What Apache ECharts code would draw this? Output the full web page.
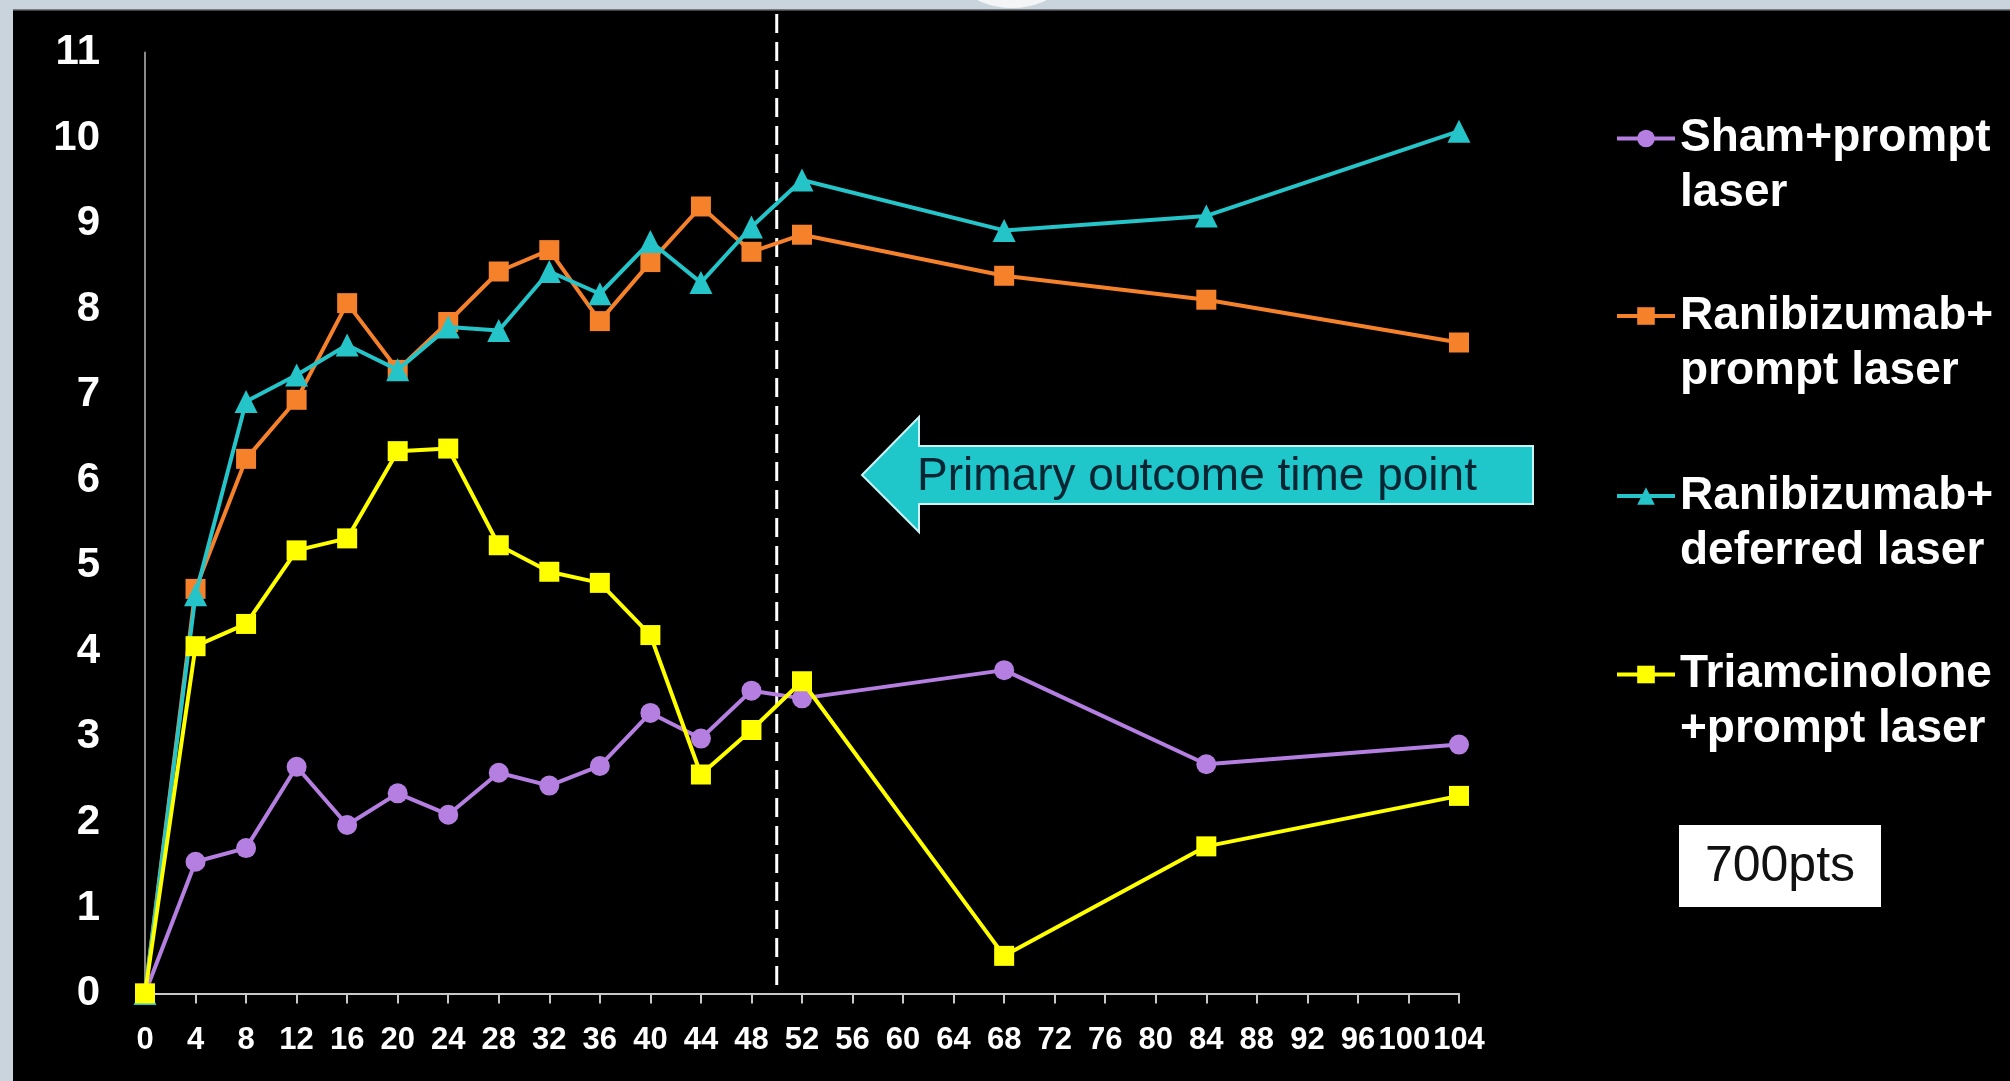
<!DOCTYPE html>
<html>
<head>
<meta charset="utf-8">
<script src="https://cdn.jsdelivr.net/npm/echarts/dist/echarts.min.js"></script>
<style>
html,body{margin:0;padding:0;background:#c9d4dc;}
#chart{width:2010px;height:1081px;}
</style>
</head>
<body>
<div id="chart"></div>
<script>
// ---- data ----
const weeks = [0, 4, 8, 12, 16, 20, 24, 28, 32, 36, 40, 44, 48, 52, 68, 84, 104];
const shamPrompt = [0, 1.54, 1.70, 2.65, 1.97, 2.34, 2.09, 2.58, 2.43, 2.66, 3.28, 2.98, 3.54, 3.45, 3.78, 2.68, 2.91];
const ranibPrompt = [0, 4.73, 6.25, 6.94, 8.07, 7.29, 7.85, 8.44, 8.69, 7.86, 8.55, 9.20, 8.67, 8.87, 8.39, 8.11, 7.61];
const ranibDeferred = [0, 4.66, 6.92, 7.23, 7.58, 7.29, 7.79, 7.75, 8.44, 8.18, 8.79, 8.31, 8.96, 9.51, 8.92, 9.09, 10.08];
const triamPrompt = [0, 4.06, 4.32, 5.18, 5.32, 6.34, 6.37, 5.24, 4.93, 4.80, 4.19, 2.56, 3.08, 3.65, 0.44, 1.72, 2.31];

const seriesNames = ['Sham+prompt laser', 'Ranibizumab+prompt laser', 'Ranibizumab+deferred laser', 'Triamcinolone+prompt laser'];
const legendLines = [['Sham+prompt', 'laser'], ['Ranibizumab+', 'prompt laser'], ['Ranibizumab+', 'deferred laser'], ['Triamcinolone', '+prompt laser']];
const seriesValues = [shamPrompt, ranibPrompt, ranibDeferred, triamPrompt];

const xAxisMin = 0, xAxisMax = 104, xAxisStep = 4;
const yAxisMin = 0, yAxisMax = 11, yAxisStep = 1;

const primaryOutcomeWeek = 50;
const primaryLineSpan = [0.1, 11.47];
const primaryOutcomeText = 'Primary outcome time point';
const patientsText = '700pts';

// ---- styling ----
const FONT = '"Liberation Sans", Arial, sans-serif';
const seriesColors = ['#b57fe2', '#f6812b', '#25c4c9', '#ffff00'];
const seriesSymbols = ['circle', 'rect', 'triangle', 'rect'];
const seriesSymbolSizes = [20, 20, 23, 20];
const legendTops = [56, 233.5, 413.5, 592];

const chart = echarts.init(document.getElementById('chart'), null, {renderer: 'canvas'});

const series = [{
  name: '__primary',
  type: 'line',
  data: [[primaryOutcomeWeek, primaryLineSpan[0]], [primaryOutcomeWeek, primaryLineSpan[1]]],
  showSymbol: false,
  symbol: 'none',
  clip: false,
  silent: true,
  z: 1,
  lineStyle: {color: '#ffffff', width: 3, type: [19, 9]}
}];
seriesNames.forEach((n, i) => {
  series.push({
    name: n,
    type: 'line',
    data: weeks.map((w, k) => [w, seriesValues[i][k]]),
    symbol: seriesSymbols[i],
    symbolSize: seriesSymbolSizes[i],
    showAllSymbol: true,
    clip: false,
    z: 3 + i,
    lineStyle: {color: seriesColors[i], width: 4},
    itemStyle: {color: seriesColors[i], borderWidth: 0},
    emphasis: {disabled: true}
  });
});

// an empty first line keeps the icon level with the first text line
const legends = seriesNames.map((n, i) => ({
  data: [n],
  left: 1615,
  top: legendTops[i],
  orient: 'vertical',
  padding: 0,
  itemWidth: 58,
  itemHeight: 22,
  selectedMode: false,
  lineStyle: {width: 4},
  formatter: () => '\n' + legendLines[i].join('\n'),
  textStyle: {
    color: '#ffffff', fontSize: 46, fontWeight: 'bold', fontFamily: FONT, lineHeight: 55
  }
}));

const option = {
  animation: false,
  backgroundColor: '#c9d4dc',
  grid: {left: 145, right: 551, top: 52.5, bottom: 87.5, containLabel: false, outerBoundsMode: 'none'},
  legend: legends,
  xAxis: {
    type: 'value', min: xAxisMin, max: xAxisMax, interval: xAxisStep,
    splitLine: {show: false},
    axisLine: {show: true, onZero: false, lineStyle: {color: '#c8c8c8', width: 2}},
    axisTick: {show: true, length: 10, lineStyle: {color: '#c8c8c8', width: 2}},
    axisLabel: {
      color: '#ffffff', fontSize: 31, fontWeight: 'bold', fontFamily: FONT, margin: 31,
      formatter: v => (v === 100 ? '{l|' + v + '}' : String(v)),
      rich: {l: {color: '#ffffff', fontSize: 31, fontWeight: 'bold', fontFamily: FONT, padding: [0, 8, 0, 0]}}
    }
  },
  yAxis: {
    type: 'value', min: yAxisMin, max: yAxisMax, interval: yAxisStep,
    splitLine: {show: false},
    axisLine: {show: true, lineStyle: {color: '#8a8a8a', width: 2}},
    axisTick: {show: false},
    axisLabel: {color: '#ffffff', fontSize: 42, fontWeight: 'bold', fontFamily: FONT, margin: 45}
  },
  series: series,
  graphic: [
    {type: 'circle', z: -102, silent: true, shape: {cx: 1012, cy: -72, r: 80}, style: {fill: '#f3f5f7'}},
    {type: 'rect', z: -100, silent: true, shape: {x: 13, y: 10, width: 1997, height: 1071}, style: {fill: '#000000'}},
    {type: 'line', z: -99, silent: true, shape: {x1: 13, y1: 10, x2: 2010, y2: 10}, style: {stroke: '#5a5e62', lineWidth: 1.5}},
    {type: 'polygon', z: 50, silent: true,
      shape: {points: [[862, 475], [919, 417], [919, 446], [1533, 446], [1533, 504], [919, 504], [919, 532]]},
      style: {fill: '#1fc6ca', stroke: '#c9f3f4', lineWidth: 2}},
    {type: 'text', z: 51, silent: true,
      style: {text: primaryOutcomeText, x: 1197, y: 477, align: 'center', verticalAlign: 'middle',
        fill: '#072633', font: '46px ' + FONT}},
    {type: 'rect', z: 50, silent: true, shape: {x: 1679, y: 825, width: 202, height: 82}, style: {fill: '#ffffff'}},
    {type: 'text', z: 51, silent: true,
      style: {text: patientsText, x: 1780, y: 867, align: 'center', verticalAlign: 'middle',
        fill: '#111111', font: '50px ' + FONT}}
  ]
};
chart.setOption(option);
</script>
</body>
</html>
